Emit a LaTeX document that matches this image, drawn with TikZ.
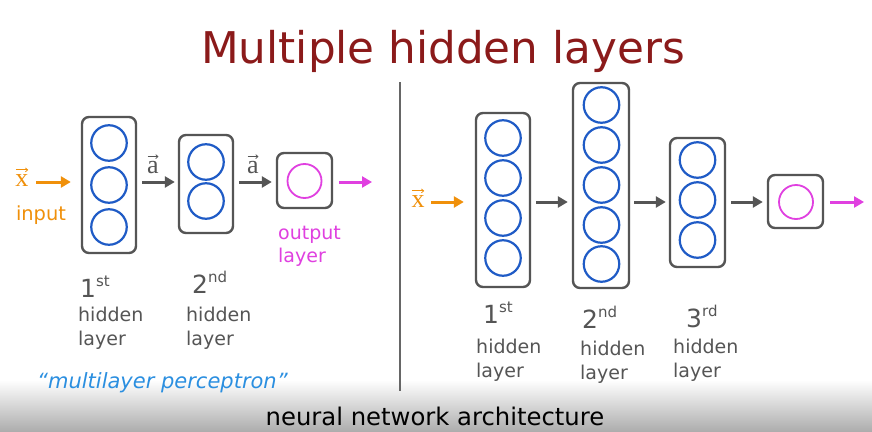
\documentclass[tikz,border=0pt]{standalone}
\usepackage{fontspec}
\setmainfont{DejaVu Sans}
\newfontfamily\serifx{Liberation Serif}
\usetikzlibrary{arrows.meta}
\definecolor{framegray}{HTML}{555555}
\definecolor{textgray}{HTML}{555555}
\definecolor{neuronblue}{HTML}{1F5BC6}
\definecolor{outmagenta}{HTML}{E040E0}
\definecolor{inorange}{HTML}{F0900A}
\definecolor{titlered}{HTML}{8B1A1A}
\definecolor{handblue}{HTML}{2B8FE0}
\newcommand{\ordinal}[2]{#1\raisebox{11pt}{\fontsize{15}{15}\selectfont #2}}
\begin{document}
\begin{tikzpicture}[x=1pt,y=-1pt,
  layerbox/.style={draw=framegray, line width=2.4pt, rounded corners=7pt,
    minimum width=#1, inner sep=0pt},
  neuron/.style={circle, draw=neuronblue, line width=2.2pt, minimum size=35.5pt, inner sep=0pt},
  outneuron/.style={circle, draw=outmagenta, line width=1.8pt, minimum size=34pt, inner sep=0pt},
  flow/.style={line width=3pt, -{Triangle[length=10pt,width=11pt]}},
  grayflow/.style={flow, draw=framegray},
  inflow/.style={flow, draw=inorange},
  outflow/.style={flow, draw=outmagenta},
  lbl/.style={text=textgray, font=\fontsize{19}{24}\selectfont, align=left, inner sep=0pt},
  ord/.style={text=textgray, font=\fontsize{25}{25}\selectfont, inner sep=0pt, anchor=base west},
  vecl/.style={font=\fontsize{26}{26}\selectfont\serifx, inner sep=0pt, anchor=base},
  vecmark/.style={line width=0.8pt, -{Straight Barb[length=2.2pt,width=4pt]}, shorten <=0.5pt, shorten >=0.5pt}
]
\useasboundingbox (0,0) rectangle (872,431);
\fill[white] (0,0) rectangle (872,431);
% caption band
\shade[top color=white, bottom color=black!32] (0,380) rectangle (872,431);

% title
\node[text=titlered, font=\fontsize{43.7}{44}\selectfont, anchor=base] (title) at (443,63) {Multiple hidden layers};

% divider between the two networks
\draw[line width=2pt, draw=black!60] (400,82) coordinate (dtop) -- (400,391) coordinate (dbot);

% ---------- left network ----------
\node[layerbox=54pt, minimum height=136pt] (L1) at (109,185) {};
\node[layerbox=54pt, minimum height=98pt] (L2) at (206,184) {};
\node[layerbox=55pt, minimum height=55pt] (L3) at (304.5,180.5) {};
\node[neuron] (L1a) at (109,143) {};
\node[neuron] (L1b) at (109,185) {};
\node[neuron] (L1c) at (109,227) {};
\node[neuron] (L2a) at (206,162) {};
\node[neuron] (L2b) at (206,201) {};
\node[outneuron] (L3a) at (304.5,181) {};

\node[vecl, text=inorange] (xinL) at (22,186) {x};
\draw[vecmark, draw=inorange] ([yshift=4pt]xinL.north west) -- ([yshift=4pt]xinL.north east);
\node[text=inorange, font=\fontsize{19.4}{20}\selectfont, anchor=base, inner sep=0pt] (inputL) at (41,220) {input};
\draw[inflow, shorten >=10pt] (36,182) -- (L1.west |- 0,182);
\draw[grayflow, shorten <=5pt, shorten >=3pt] (L1.east |- 0,182) -- (L2.west |- 0,182);
\draw[grayflow, shorten <=5pt, shorten >=4pt] (L2.east |- 0,182) -- (L3.west |- 0,182);
\coordinate (outL) at (372,182);
\draw[outflow, shorten <=6pt] (L3.east |- 0,182) -- (outL);
\node[vecl, text=textgray] (a1) at (153,173) {a};
\node[vecl, text=textgray] (a2) at (253,173) {a};
\draw[vecmark, draw=textgray] ([yshift=4pt]a1.north west) -- ([yshift=4pt]a1.north east);
\draw[vecmark, draw=textgray] ([yshift=4pt]a2.north west) -- ([yshift=4pt]a2.north east);
\node[text=outmagenta, font=\fontsize{19}{23}\selectfont, align=left, inner sep=0pt, anchor=base west] (outlbl) at (278,262) {output\\layer};

\node[ord] (o1L) at (80,297) {\ordinal{1}{st}};
\node[ord] (o2L) at (192,293) {\ordinal{2}{nd}};
\node[lbl, anchor=base west] (h1L) at (78,345) {hidden\\layer};
\node[lbl, anchor=base west] (h2L) at (186,345) {hidden\\layer};

\node[text=handblue, font=\fontsize{21}{21}\selectfont\itshape, anchor=base west, inner sep=0pt] (mlp) at (37,388) {\char"201C multilayer perceptron\char"201D};

% ---------- right network ----------
\node[layerbox=54pt, minimum height=174pt] (R1) at (503,200) {};
\node[layerbox=56pt, minimum height=205pt] (R2) at (601,185.5) {};
\node[layerbox=55pt, minimum height=129pt] (R3) at (697.5,202.5) {};
\node[layerbox=55pt, minimum height=53pt] (R4) at (795.5,201.5) {};
\foreach \y [count=\i] in {138,178,218,258} \node[neuron] (R1n\i) at (503,\y) {};
\foreach \y [count=\i] in {105,145,185,225,264} \node[neuron] (R2n\i) at (601.5,\y) {};
\foreach \y [count=\i] in {160,200,240} \node[neuron] (R3n\i) at (697.5,\y) {};
\node[outneuron] (R4a) at (796,202) {};

\node[vecl, text=inorange] (xinR) at (418,207) {x};
\draw[vecmark, draw=inorange] ([yshift=4pt]xinR.north west) -- ([yshift=4pt]xinR.north east);
\draw[inflow, shorten >=11pt] (431,202) -- (R1.west |- 0,202);
\draw[grayflow, shorten <=5pt, shorten >=4pt] (R1.east |- 0,202) -- (R2.west |- 0,202);
\draw[grayflow, shorten <=4pt, shorten >=3pt] (R2.east |- 0,202) -- (R3.west |- 0,202);
\draw[grayflow, shorten <=5pt, shorten >=4pt] (R3.east |- 0,202) -- (R4.west |- 0,202);
\coordinate (outR) at (864,202);
\draw[outflow, shorten <=6pt] (R4.east |- 0,202) -- (outR);

\node[ord] (o1R) at (483,323) {\ordinal{1}{st}};
\node[ord] (o2R) at (582,328) {\ordinal{2}{nd}};
\node[ord] (o3R) at (686,327) {\ordinal{3}{rd}};
\node[lbl, anchor=base west] (h1R) at (476,377) {hidden\\layer};
\node[lbl, anchor=base west] (h2R) at (580,379) {hidden\\layer};
\node[lbl, anchor=base west] (h3R) at (673,377) {hidden\\layer};

\node[text=black, font=\fontsize{24.3}{25}\selectfont, anchor=base, inner sep=0pt] (caption) at (435,425) {neural network architecture};
\end{tikzpicture}
\end{document}
